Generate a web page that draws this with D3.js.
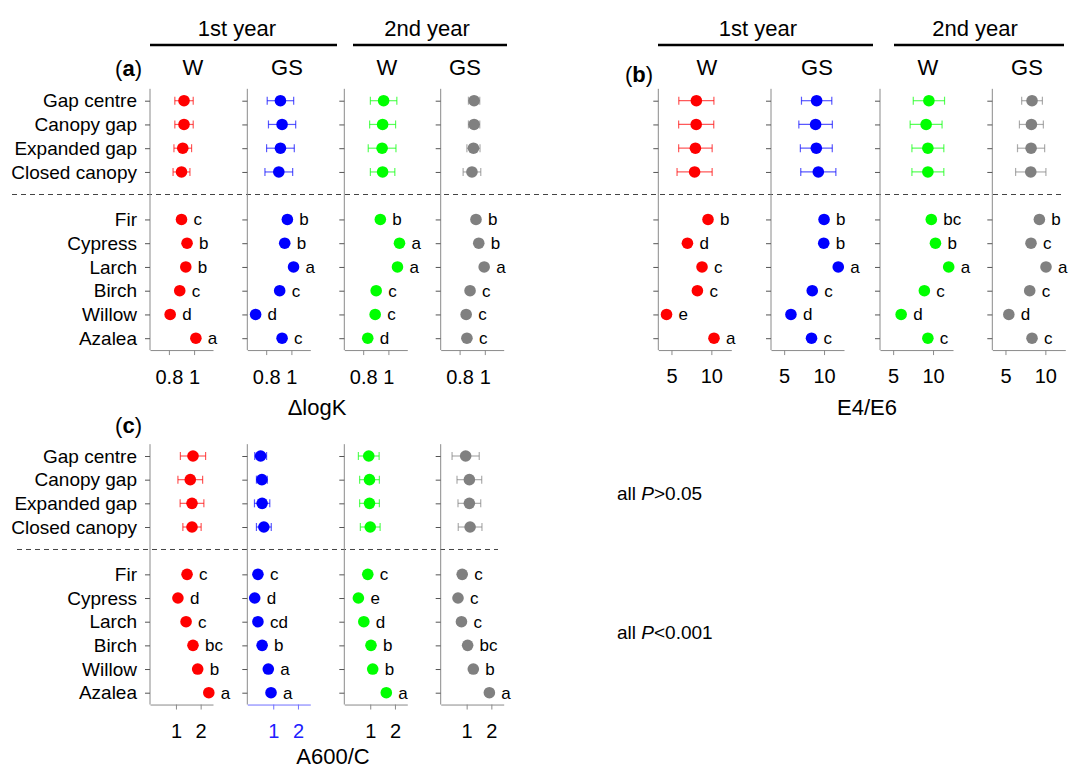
<!DOCTYPE html>
<html>
<head>
<meta charset="utf-8">
<script src="https://cdn.jsdelivr.net/npm/d3@7"></script>
<style>
body { margin: 0; background: #fff; }
text { font-family: "Liberation Sans", Arial, sans-serif; fill: #000; }
</style>
</head>
<body>
<script>
// Row categories
var treatments = ["Gap centre", "Canopy gap", "Expanded gap", "Closed canopy"];
var species = ["Fir", "Cypress", "Larch", "Birch", "Willow", "Azalea"];
var groupNames = ["W", "GS", "W", "GS"];
var yearNames = ["1st year", "2nd year"];
var dotColors = ["#ff0000", "#0000ff", "#00ff00", "#808080"];

// (a) delta logK : one array per column (1st W, 1st GS, 2nd W, 2nd GS)
var logkTrtMean = [[0.92, 0.92, 0.91, 0.90], [0.913, 0.926, 0.913, 0.90], [0.962, 0.954, 0.95, 0.954], [0.915, 0.915, 0.91, 0.898]];
var logkTrtErr = [[0.073, 0.073, 0.07, 0.067], [0.105, 0.108, 0.11, 0.11], [0.105, 0.103, 0.11, 0.097], [0.045, 0.045, 0.052, 0.07]];
var logkSpMean = [[0.90, 0.944, 0.934, 0.886, 0.81, 1.014], [0.968, 0.947, 1.017, 0.907, 0.716, 0.926], [0.936, 1.088, 1.072, 0.903, 0.895, 0.836], [0.93, 0.952, 0.995, 0.883, 0.852, 0.858]];
var logkLetters = [["c", "b", "b", "c", "d", "a"], ["b", "b", "a", "c", "d", "c"], ["b", "a", "a", "c", "c", "d"], ["b", "b", "a", "c", "c", "c"]];
var logkTicks = [0.8, 1];

// (b) E4/E6
var e46TrtMean = [[8.12, 8.1, 8.0, 7.9], [9.07, 8.94, 9.03, 9.28], [9.48, 9.13, 9.35, 9.35], [8.33, 8.25, 8.21, 8.17]];
var e46TrtErr = [[2.2, 2.2, 2.1, 2.2], [1.9, 2.1, 2.0, 2.2], [1.96, 2.0, 2.0, 2.0], [1.3, 1.5, 1.7, 1.9]];
var e46SpMean = [[9.58, 7.0, 8.83, 8.25, 4.38, 10.33], [10.0, 9.96, 11.78, 8.52, 5.85, 8.43], [9.78, 10.3, 11.96, 8.91, 6.0, 9.35], [9.25, 8.2, 10.08, 8.04, 5.42, 8.33]];
var e46Letters = [["b", "d", "c", "c", "e", "a"], ["b", "b", "a", "c", "d", "c"], ["bc", "b", "a", "c", "d", "c"], ["b", "c", "a", "c", "d", "c"]];
var e46Ticks = [5, 10];

// (c) A600/C
var a600TrtMean = [[1.69, 1.58, 1.65, 1.65], [0.49, 0.54, 0.55, 0.62], [0.94, 0.97, 0.97, 1.0], [0.96, 1.11, 1.11, 1.14]];
var a600TrtErr = [[0.51, 0.5, 0.48, 0.37], [0.24, 0.22, 0.31, 0.3], [0.42, 0.4, 0.4, 0.4], [0.55, 0.5, 0.46, 0.48]];
var a600SpMean = [[1.45, 1.08, 1.41, 1.69, 1.88, 2.33], [0.38, 0.25, 0.38, 0.55, 0.80, 0.91], [0.90, 0.52, 0.74, 1.03, 1.10, 1.65], [0.82, 0.65, 0.79, 1.04, 1.27, 1.92]];
var a600Letters = [["c", "d", "c", "bc", "b", "a"], ["c", "d", "cd", "b", "a", "a"], ["c", "e", "d", "b", "b", "a"], ["c", "c", "c", "bc", "b", "a"]];
var a600Ticks = [1, 2];

var pNotes = ["all ", "P", ">0.05", "all ", "P", "<0.001"];

var svg = d3.select("body").append("svg")
  .attr("width", 1069)
  .attr("height", 771);

var rowKeys = treatments.concat(["sep"]).concat(species);
var axisGrey = "#8a8a8a";

function drawPanel(cfg) {
  // year headers with the rule under them
  if (cfg.years) {
    cfg.years.forEach(function (yr, k) {
      svg.append("text")
        .attr("x", yr.x).attr("y", 28).attr("dy", "0.35em")
        .attr("text-anchor", "middle").style("font-size", "22px")
        .text(yearNames[k]);
      svg.append("line")
        .attr("x1", yr.x1).attr("x2", yr.x2)
        .attr("y1", 45).attr("y2", 45)
        .style("stroke", "#000").style("stroke-width", 2.5);
    });
    cfg.groupX.forEach(function (gx, k) {
      svg.append("text")
        .attr("x", gx).attr("y", 67).attr("dy", "0.35em")
        .attr("text-anchor", "middle").style("font-size", "22px")
        .text(groupNames[k]);
    });
  }

  // panel letter
  var lab = svg.append("text")
    .attr("x", cfg.labelX).attr("y", cfg.labelY).attr("dy", "0.35em")
    .attr("text-anchor", "end").style("font-size", "22px");
  lab.append("tspan").text("(");
  lab.append("tspan").style("font-weight", "bold").text(cfg.label);
  lab.append("tspan").text(")");

  // dashed separator
  if (cfg.dash) {
    svg.append("line")
      .attr("x1", cfg.dash[0]).attr("x2", cfg.dash[1])
      .attr("y1", cfg.top + 3.95 * cfg.step).attr("y2", cfg.top + 3.95 * cfg.step)
      .style("stroke", "#444").style("stroke-dasharray", "5,4");
  }

  var bottom = cfg.top + 10.5 * cfg.step;

  cfg.xs.forEach(function (x0, i) {
    var g = svg.append("g").attr("transform", "translate(" + x0 + ",0)");
    var x = d3.scaleLinear().domain(cfg.domain).range([0, cfg.w]);
    var y = d3.scalePoint().domain(rowKeys).range([cfg.top, cfg.top + 10 * cfg.step]);
    var col = dotColors[i];

    // left axis
    g.append("line")
      .attr("x1", 0).attr("x2", 0)
      .attr("y1", cfg.top - 0.5 * cfg.step).attr("y2", bottom)
      .style("stroke", axisGrey);
    var ya = g.append("g").call(d3.axisLeft(y)
      .tickValues(rowKeys.filter(function (k) { return k !== "sep"; }))
      .tickSize(5).tickSizeOuter(0).tickPadding(8)
      .tickFormat(i === 0 && cfg.rowLabels ? function (d) { return d; } : function () { return ""; }));
    ya.select(".domain").remove();
    ya.selectAll("line").style("stroke", "#555");
    ya.selectAll("text").style("font-size", "19px").style("fill", "#000")
      .style("font-family", "Liberation Sans, Arial, sans-serif");

    // bottom axis
    var bc = (cfg.blueAxis === i) ? "#7070ff" : axisGrey;
    var xa = g.append("g").attr("transform", "translate(0," + bottom + ")")
      .call(d3.axisBottom(x).tickValues(cfg.ticks).tickSize(5).tickSizeOuter(0)
        .tickPadding(cfg.tickPad).tickFormat(d3.format("~g")));
    xa.select(".domain").style("stroke", bc);
    xa.selectAll(".tick line").style("stroke", bc);
    xa.selectAll("text").style("font-size", "20px")
      .style("fill", cfg.blueAxis === i ? "#2020ff" : "#000")
      .style("font-family", "Liberation Sans, Arial, sans-serif");

    // treatment means with error bars
    treatments.forEach(function (t, j) {
      var m = cfg.trtMean[i][j], e = cfg.trtErr[i][j], yy = y(t);
      var eb = g.append("g").style("stroke", col).style("stroke-opacity", 0.65).style("stroke-width", 1.2);
      eb.append("line").attr("x1", x(m - e)).attr("x2", x(m + e)).attr("y1", yy).attr("y2", yy);
      eb.append("line").attr("x1", x(m - e)).attr("x2", x(m - e)).attr("y1", yy - 4).attr("y2", yy + 4);
      eb.append("line").attr("x1", x(m + e)).attr("x2", x(m + e)).attr("y1", yy - 4).attr("y2", yy + 4);
      g.append("circle").attr("cx", x(m)).attr("cy", yy).attr("r", 5.8).style("fill", col);
    });

    // species means with letters
    species.forEach(function (s, j) {
      var m = cfg.spMean[i][j], yy = y(s);
      g.append("circle").attr("cx", x(m)).attr("cy", yy).attr("r", 5.8).style("fill", col);
      g.append("text")
        .attr("x", x(m) + 12).attr("y", yy).attr("dy", "0.35em")
        .style("font-size", "17px")
        .text(cfg.letters[i][j]);
    });
  });

  svg.append("text")
    .attr("x", cfg.titleX).attr("y", cfg.titleY).attr("dy", "0.35em")
    .attr("text-anchor", "middle").style("font-size", "22px")
    .text(cfg.title);
}

drawPanel({
  label: "a", labelX: 142, labelY: 68,
  years: [{ x: 237, x1: 150, x2: 337 }, { x: 427, x1: 353, x2: 507 }],
  groupX: [193, 287, 387, 465],
  xs: [150, 247.3, 344.3, 440.7], w: 63,
  top: 100.7, step: 23.75,
  domain: [0.65, 1.15], ticks: logkTicks, tickPad: 15,
  trtMean: logkTrtMean, trtErr: logkTrtErr, spMean: logkSpMean, letters: logkLetters,
  rowLabels: true, dash: [12, 1064],
  title: "\u0394logK", titleX: 317, titleY: 407
});

drawPanel({
  label: "b", labelX: 653, labelY: 74,
  years: [{ x: 758, x1: 658, x2: 873 }, { x: 975, x1: 894, x2: 1064 }],
  groupX: [707, 817, 928, 1027],
  xs: [658.3, 771, 880, 992.3], w: 73,
  top: 100.7, step: 23.75,
  domain: [3.35, 12.5], ticks: e46Ticks, tickPad: 14,
  trtMean: e46TrtMean, trtErr: e46TrtErr, spMean: e46SpMean, letters: e46Letters,
  rowLabels: false, dash: null,
  title: "E4/E6", titleX: 867, titleY: 407
});

drawPanel({
  label: "c", labelX: 142, labelY: 425,
  years: null,
  xs: [150, 247.3, 344.3, 440.7], w: 63,
  top: 456, step: 23.67,
  domain: [-0.05, 2.5], ticks: a600Ticks, tickPad: 14, blueAxis: 1,
  trtMean: a600TrtMean, trtErr: a600TrtErr, spMean: a600SpMean, letters: a600Letters,
  rowLabels: true, dash: [17, 498],
  title: "A600/C", titleX: 333, titleY: 756
});

// significance notes for panel (c)
[493, 632].forEach(function (yy, k) {
  var t = svg.append("text").attr("x", 617).attr("y", yy).attr("dy", "0.35em").style("font-size", "19px");
  t.append("tspan").text(pNotes[k * 3]);
  t.append("tspan").style("font-style", "italic").text(pNotes[k * 3 + 1]);
  t.append("tspan").text(pNotes[k * 3 + 2]);
});
</script>
</body>
</html>
